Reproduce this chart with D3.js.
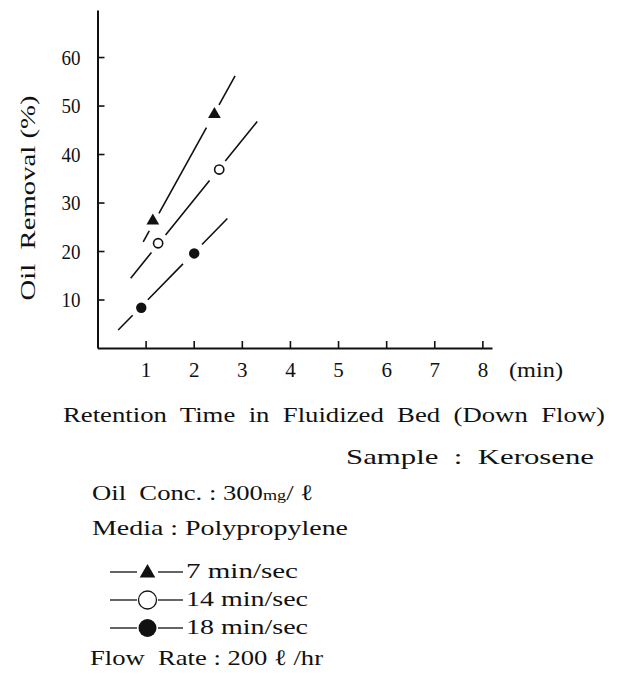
<!DOCTYPE html>
<html>
<head>
<meta charset="utf-8">
<script src="https://cdn.jsdelivr.net/npm/d3@7"></script>
<style>
  html, body { margin: 0; padding: 0; background: #fff; }
  svg { display: block; }
  text { font-family: "Liberation Serif", "DejaVu Serif", serif; fill: #111; white-space: pre; }
</style>
</head>
<body>
<svg id="chart" width="617" height="675"></svg>
<script>
// ---------- data ----------
const xTicks = [1, 2, 3, 4, 5, 6, 7, 8];
const yTicks = [10, 20, 30, 40, 50, 60];
const seriesNames = ["7 min/sec", "14 min/sec", "18 min/sec"];

// measured points
const triX = [1.15, 2.43];
const triY = [26.2, 48.2];
const openX = [1.26, 2.53];
const openY = [21.6, 36.8];
const fillX = [0.91, 2.01];
const fillY = [8.3, 19.5];

// fitted (drawn) lines: start / end
const triLineX = [0.95, 2.86];
const triLineY = [21.9, 56.1];
const openLineX = [0.69, 3.32];
const openLineY = [14.4, 46.7];
const fillLineX = [0.43, 2.70];
const fillLineY = [3.7, 26.7];

const xAxisTitle = "Retention  Time  in  Fluidized  Bed  (Down  Flow)";
const xUnit = "(min)";
const yAxisTitle = "Oil  Removal (%)";

// ---------- layout ----------
const svg = d3.select("#chart");
const x = d3.scaleLinear().domain([0, 8.2]).range([97.5, 492]);
const y = d3.scaleLinear().domain([0, 69.7]).range([348, 10]);

const serif = '"Liberation Serif", "DejaVu Serif", serif';

// y axis
svg.append("g")
  .attr("transform", `translate(${x(0)},0)`)
  .call(d3.axisLeft(y).tickValues(yTicks).tickSizeInner(-7).tickSizeOuter(0).tickPadding(17))
  .call(g => g.select(".domain").attr("stroke", "#111").attr("stroke-width", 2))
  .call(g => g.selectAll(".tick line").attr("stroke", "#111").attr("stroke-width", 1.6))
  .call(g => g.selectAll("text").attr("font-family", serif).attr("font-size", 22).attr("fill", "#111")
      .attr("textLength", 19).attr("lengthAdjust", "spacingAndGlyphs"));

// x axis
svg.append("g")
  .attr("transform", `translate(0,${y(0)})`)
  .call(d3.axisBottom(x).tickValues(xTicks).tickSizeInner(-7).tickSizeOuter(0))
  .call(g => g.select(".domain").attr("stroke", "#111").attr("stroke-width", 2))
  .call(g => g.selectAll(".tick line").attr("stroke", "#111").attr("stroke-width", 1.6))
  .call(g => g.selectAll("text").attr("font-family", serif).attr("font-size", 21)
      .attr("fill", "#111").attr("y", 29).attr("dy", null));

// unit
svg.append("text").attr("x", 509).attr("y", y(0) + 29)
  .attr("font-size", 21).attr("textLength", 54).attr("lengthAdjust", "spacingAndGlyphs")
  .text(xUnit);

// y title
svg.append("text")
  .attr("transform", `translate(35,198) rotate(-90)`)
  .attr("text-anchor", "middle").attr("font-size", 22)
  .attr("textLength", 205).attr("lengthAdjust", "spacingAndGlyphs")
  .text(yAxisTitle);

// ---------- lines ----------
const line = d3.line().x(d => x(d[0])).y(d => y(d[1]));
const lines = [
  { xs: triLineX, ys: triLineY, dash: "12.5,20,98,26,40" },
  { xs: openLineX, ys: openLineY, dash: "33,22.5,70,25,56" },
  { xs: fillLineX, ys: fillLineY, dash: "20.7,21.7,50.2,27.2,40" }
];
svg.append("g").selectAll("path").data(lines).join("path")
  .attr("d", d => line(d.xs.map((v, i) => [v, d.ys[i]])))
  .attr("fill", "none").attr("stroke", "#111").attr("stroke-width", 1.6)
  .attr("stroke-dasharray", d => d.dash);

// ---------- markers ----------
const tri = d3.symbol().type(d3.symbolTriangle).size(70);
svg.append("g").selectAll("path").data(triX.map((v, i) => [v, triY[i]])).join("path")
  .attr("d", tri).attr("transform", d => `translate(${x(d[0])},${y(d[1])})`)
  .attr("fill", "#111");
svg.append("g").selectAll("circle").data(openX.map((v, i) => [v, openY[i]])).join("circle")
  .attr("cx", d => x(d[0])).attr("cy", d => y(d[1])).attr("r", 4.6)
  .attr("fill", "#fff").attr("stroke", "#111").attr("stroke-width", 1.6);
svg.append("g").selectAll("circle").data(fillX.map((v, i) => [v, fillY[i]])).join("circle")
  .attr("cx", d => x(d[0])).attr("cy", d => y(d[1])).attr("r", 5.2)
  .attr("fill", "#111");

// ---------- annotation text ----------
function label(txt, xs, ys, len, fs) {
  return svg.append("text").attr("x", xs).attr("y", ys).attr("font-size", fs || 22)
    .attr("textLength", len).attr("lengthAdjust", "spacingAndGlyphs").text(txt);
}
label(xAxisTitle, 63, 422, 542, 22);
label("Sample  :  Kerosene", 346, 464, 248, 22);

const oc = svg.append("text").attr("x", 92).attr("y", 500).attr("font-size", 22)
  .attr("textLength", 221).attr("lengthAdjust", "spacingAndGlyphs");
oc.append("tspan").text("Oil  Conc. : 300");
oc.append("tspan").attr("font-size", 15).text("mg");
oc.append("tspan").text("/ ℓ");

label("Media : Polypropylene", 92, 535, 256, 22);

// legend
const legY = [572, 600, 628];
const legBase = [578, 606, 634];
const lg = svg.append("g");
seriesNames.forEach((nm, i) => {
  lg.append("line").attr("x1", 110).attr("x2", 137).attr("y1", legY[i]).attr("y2", legY[i])
    .attr("stroke", "#111").attr("stroke-width", 1.3);
  lg.append("line").attr("x1", 158).attr("x2", 183).attr("y1", legY[i]).attr("y2", legY[i])
    .attr("stroke", "#111").attr("stroke-width", 1.3);
  label(nm, 186, legBase[i], i === 0 ? 112 : 122, 22);
});
lg.append("path").attr("d", d3.symbol().type(d3.symbolTriangle).size(105))
  .attr("transform", `translate(147.5,${legY[0] + 1})`).attr("fill", "#111");
lg.append("circle").attr("cx", 147.5).attr("cy", legY[1]).attr("r", 9)
  .attr("fill", "#fff").attr("stroke", "#111").attr("stroke-width", 1.3);
lg.append("circle").attr("cx", 147.5).attr("cy", legY[2]).attr("r", 9)
  .attr("fill", "#111");

label("Flow  Rate : 200 ℓ /hr", 90, 665, 233, 22);
</script>
</body>
</html>
